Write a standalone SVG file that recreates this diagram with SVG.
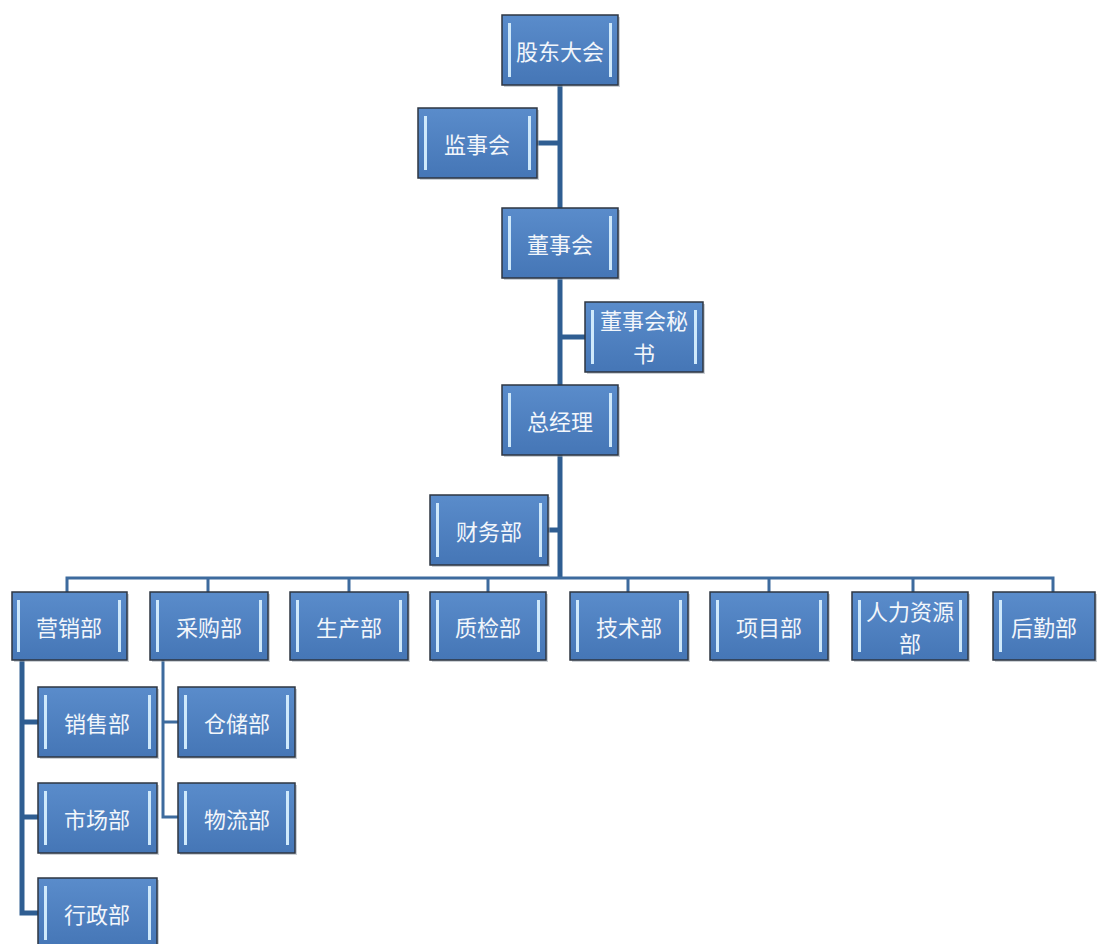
<svg xmlns="http://www.w3.org/2000/svg" width="1099" height="944" viewBox="0 0 1099 944">
<defs>
<linearGradient id="g" x1="0" y1="0" x2="0" y2="1">
<stop offset="0" stop-color="#5a8ccb"/>
<stop offset="1" stop-color="#4576b6"/>
</linearGradient>
<style>
.box{fill:url(#g);stroke:#2e3642;stroke-width:1.5}
.sh{fill:#9aa3ad;opacity:0.5}
.bar{fill:#cfe9fb}
.t{font-family:"Noto Sans CJK SC","Noto Sans CJK JP",sans-serif;font-size:22px;fill:#f2f6fb;text-anchor:middle;dominant-baseline:central}
.main{stroke:#2f5e92;stroke-width:5;fill:none}
.bus{stroke:#3d6b9e;stroke-width:3;fill:none}
</style>
</defs>
<rect width="1099" height="944" fill="#ffffff"/>
<g id="connectors">
<path class="main" d="M560 85V577"/>
<path class="main" d="M537 143H560"/>
<path class="main" d="M561 337H585"/>
<path class="main" d="M548 530H560"/>
<path class="bus" d="M67 592V578H1053V592"/>
<path class="bus" d="M208 578V592M349 578V592M488 578V592M628 578V592M769 578V592M913 578V592"/>
<path class="main" d="M22 660V913H38M22 722H38M22 817H38"/>
<path class="bus" d="M163 660V817H178M163 722H178"/>
</g>
<g id="n1"><rect class="sh" x="504" y="17" width="116" height="70"/><rect class="box" x="502" y="15" width="116" height="70"/><rect class="bar" x="508" y="23" width="3" height="54"/><rect class="bar" x="609" y="23" width="3" height="54"/><text class="t" x="560" y="50">股东大会</text></g>
<g id="n2"><rect class="sh" x="420" y="110" width="119" height="70"/><rect class="box" x="418" y="108" width="119" height="70"/><rect class="bar" x="424" y="116" width="3" height="54"/><rect class="bar" x="528" y="116" width="3" height="54"/><text class="t" x="477" y="143">监事会</text></g>
<g id="n3"><rect class="sh" x="504" y="210" width="116" height="70"/><rect class="box" x="502" y="208" width="116" height="70"/><rect class="bar" x="508" y="216" width="3" height="54"/><rect class="bar" x="609" y="216" width="3" height="54"/><text class="t" x="560" y="243">董事会</text></g>
<g id="n4"><rect class="sh" x="587" y="304" width="118" height="70"/><rect class="box" x="585" y="302" width="118" height="70"/><rect class="bar" x="591" y="310" width="3" height="54"/><rect class="bar" x="694" y="310" width="3" height="54"/><text class="t" x="644" y="319">董事会秘</text><text class="t" x="644" y="352">书</text></g>
<g id="n5"><rect class="sh" x="504" y="387" width="116" height="70"/><rect class="box" x="502" y="385" width="116" height="70"/><rect class="bar" x="508" y="393" width="3" height="54"/><rect class="bar" x="609" y="393" width="3" height="54"/><text class="t" x="560" y="420">总经理</text></g>
<g id="n6"><rect class="sh" x="432" y="497" width="118" height="70"/><rect class="box" x="430" y="495" width="118" height="70"/><rect class="bar" x="436" y="503" width="3" height="54"/><rect class="bar" x="539" y="503" width="3" height="54"/><text class="t" x="489" y="530">财务部</text></g>
<g id="n7"><rect class="sh" x="14" y="594" width="115" height="68"/><rect class="box" x="12" y="592" width="115" height="68"/><rect class="bar" x="17" y="600" width="3" height="52"/><rect class="bar" x="118" y="600" width="3" height="52"/><text class="t" x="69" y="626">营销部</text></g>
<g id="n8"><rect class="sh" x="152" y="594" width="118" height="68"/><rect class="box" x="150" y="592" width="118" height="68"/><rect class="bar" x="156" y="600" width="3" height="52"/><rect class="bar" x="259" y="600" width="3" height="52"/><text class="t" x="209" y="626">采购部</text></g>
<g id="n9"><rect class="sh" x="292" y="594" width="118" height="68"/><rect class="box" x="290" y="592" width="118" height="68"/><rect class="bar" x="296" y="600" width="3" height="52"/><rect class="bar" x="399" y="600" width="3" height="52"/><text class="t" x="349" y="626">生产部</text></g>
<g id="n10"><rect class="sh" x="432" y="594" width="116" height="68"/><rect class="box" x="430" y="592" width="116" height="68"/><rect class="bar" x="436" y="600" width="3" height="52"/><rect class="bar" x="537" y="600" width="3" height="52"/><text class="t" x="488" y="626">质检部</text></g>
<g id="n11"><rect class="sh" x="572" y="594" width="118" height="68"/><rect class="box" x="570" y="592" width="118" height="68"/><rect class="bar" x="576" y="600" width="3" height="52"/><rect class="bar" x="679" y="600" width="3" height="52"/><text class="t" x="629" y="626">技术部</text></g>
<g id="n12"><rect class="sh" x="712" y="594" width="118" height="68"/><rect class="box" x="710" y="592" width="118" height="68"/><rect class="bar" x="716" y="600" width="3" height="52"/><rect class="bar" x="819" y="600" width="3" height="52"/><text class="t" x="769" y="626">项目部</text></g>
<g id="n13"><rect class="sh" x="854" y="594" width="116" height="68"/><rect class="box" x="852" y="592" width="116" height="68"/><rect class="bar" x="858" y="600" width="3" height="52"/><rect class="bar" x="959" y="600" width="3" height="52"/><text class="t" x="910" y="610">人力资源</text><text class="t" x="910" y="642">部</text></g>
<g id="n14"><rect class="sh" x="995" y="594" width="102" height="68"/><rect class="box" x="993" y="592" width="102" height="68"/><rect class="bar" x="999" y="600" width="3" height="52"/><text class="t" x="1044" y="626">后勤部</text></g>
<g id="n15"><rect class="sh" x="40" y="689" width="119" height="70"/><rect class="box" x="38" y="687" width="119" height="70"/><rect class="bar" x="44" y="695" width="3" height="54"/><rect class="bar" x="148" y="695" width="3" height="54"/><text class="t" x="97" y="722">销售部</text></g>
<g id="n16"><rect class="sh" x="40" y="785" width="119" height="70"/><rect class="box" x="38" y="783" width="119" height="70"/><rect class="bar" x="44" y="791" width="3" height="54"/><rect class="bar" x="148" y="791" width="3" height="54"/><text class="t" x="97" y="818">市场部</text></g>
<g id="n17"><rect class="sh" x="40" y="880" width="119" height="70"/><rect class="box" x="38" y="878" width="119" height="70"/><rect class="bar" x="44" y="886" width="3" height="54"/><rect class="bar" x="148" y="886" width="3" height="54"/><text class="t" x="97" y="913">行政部</text></g>
<g id="n18"><rect class="sh" x="180" y="689" width="117" height="70"/><rect class="box" x="178" y="687" width="117" height="70"/><rect class="bar" x="184" y="695" width="3" height="54"/><rect class="bar" x="286" y="695" width="3" height="54"/><text class="t" x="237" y="722">仓储部</text></g>
<g id="n19"><rect class="sh" x="180" y="785" width="117" height="70"/><rect class="box" x="178" y="783" width="117" height="70"/><rect class="bar" x="184" y="791" width="3" height="54"/><rect class="bar" x="286" y="791" width="3" height="54"/><text class="t" x="237" y="818">物流部</text></g>
</svg>
